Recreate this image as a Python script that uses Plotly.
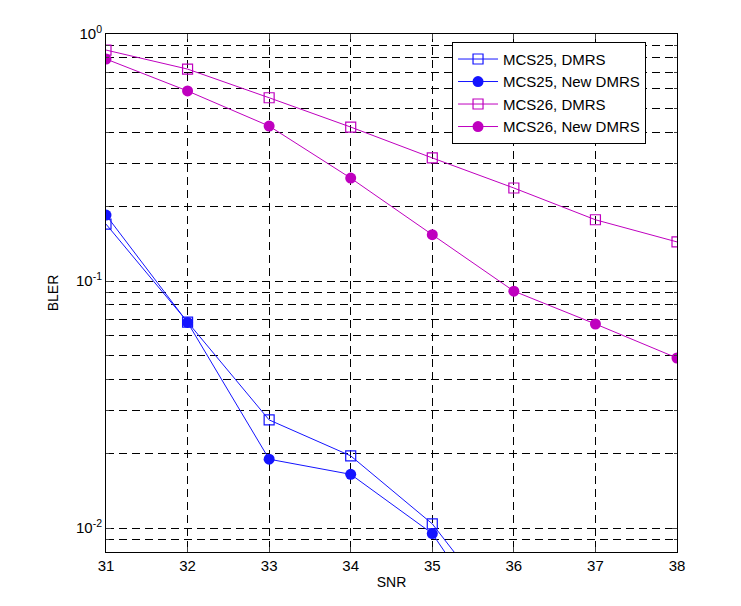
import numpy as np
import plotly.graph_objects as go

snr = [31, 32, 33, 34, 35, 36, 37, 38]
snr25 = [31, 32, 33, 34, 35, 36]
mcs25_dmrs = [0.170, 0.0682, 0.0274, 0.0196, 0.0104, 0.0039]
mcs25_new = [0.185, 0.0680, 0.0190, 0.0165, 0.0095, 0.0031]
mcs26_dmrs = [0.861, 0.721, 0.552, 0.420, 0.315, 0.238, 0.177, 0.144]
mcs26_new = [0.792, 0.588, 0.424, 0.261, 0.154, 0.091, 0.067, 0.0488]

x_ticks = [31, 32, 33, 34, 35, 36, 37, 38]
y_major = [0.01, 0.1, 1]
y_major_text = ["10<sup>-2</sup>", "10<sup>-1</sup>", "10<sup>0</sup>"]
y_minor = [0.009, 0.02, 0.03, 0.04, 0.05, 0.06, 0.07, 0.08, 0.09,
           0.2, 0.3, 0.4, 0.5, 0.6, 0.7, 0.8, 0.9]

blue = "rgb(20,20,255)"
mag = "rgb(191,0,191)"

fig = go.Figure()
fig.add_trace(go.Scatter(x=snr25, y=mcs25_dmrs, mode="lines+markers", name="MCS25, DMRS",
                         line=dict(color=blue, width=1),
                         marker=dict(symbol="square-open", size=10, color=blue, line=dict(width=1.2))))
fig.add_trace(go.Scatter(x=snr25, y=mcs25_new, mode="lines+markers", name="MCS25, New DMRS",
                         line=dict(color=blue, width=1),
                         marker=dict(symbol="circle", size=11, color=blue)))
fig.add_trace(go.Scatter(x=snr, y=mcs26_dmrs, mode="lines+markers", name="MCS26, DMRS",
                         line=dict(color=mag, width=1),
                         marker=dict(symbol="square-open", size=10, color=mag, line=dict(width=1.2))))
fig.add_trace(go.Scatter(x=snr, y=mcs26_new, mode="lines+markers", name="MCS26, New DMRS",
                         line=dict(color=mag, width=1),
                         marker=dict(symbol="circle", size=11, color=mag)))

fig.update_layout(
    width=733, height=598,
    margin=dict(l=98, r=64, t=26, b=54),
    paper_bgcolor="white", plot_bgcolor="white",
    font=dict(family="Liberation Sans, Arial, sans-serif", size=15, color="black"),
    legend=dict(x=0.606, y=0.985, xanchor="left", yanchor="top",
                bgcolor="white", bordercolor="black", borderwidth=1,
                font=dict(size=15), tracegroupgap=0, itemwidth=40),
    showlegend=True,
)
fig.update_xaxes(
    range=[31, 38], tickvals=x_ticks, ticks="inside", ticklen=5,
    showline=True, linecolor="black", linewidth=1, mirror="ticks",
    showgrid=True, gridcolor="black", gridwidth=1, griddash="8px,5px",
    zeroline=False,
    title=dict(text="SNR", font=dict(size=14), standoff=4),
    tickfont=dict(size=15),
)
fig.update_yaxes(
    type="log", range=[np.log10(0.008), 0],
    tickvals=y_major, ticktext=y_major_text, ticks="inside", ticklen=5,
    showline=True, linecolor="black", linewidth=1, mirror="ticks",
    showgrid=True, gridcolor="black", gridwidth=1, griddash="8px,5px",
    minor=dict(tickvals=y_minor, ticks="inside", ticklen=3, showgrid=True,
               gridcolor="black", gridwidth=1, griddash="8px,5px"),
    zeroline=False,
    title=dict(text="BLER", font=dict(size=14), standoff=14),
    tickfont=dict(size=15),
)

fig.write_html("out.html")
